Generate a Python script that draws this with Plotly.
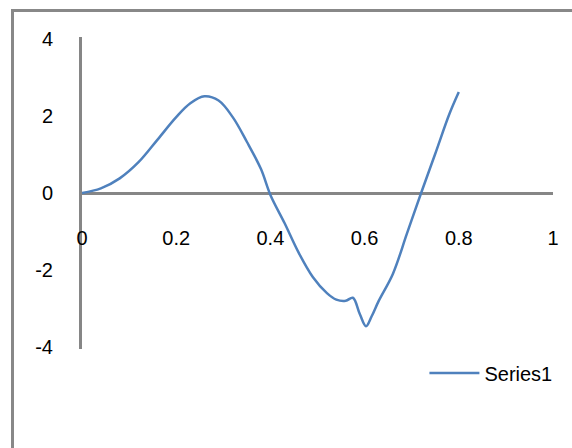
import plotly.graph_objects as go

# Series1 samples (x, y)
x_vals = [0, 0.04, 0.08, 0.12, 0.16, 0.2, 0.23, 0.26, 0.29, 0.32, 0.35, 0.38, 0.40,
          0.43, 0.46, 0.49, 0.52, 0.54, 0.56, 0.575, 0.59, 0.603, 0.615, 0.63, 0.66,
          0.69, 0.72, 0.75, 0.78, 0.80]
y_vals = [0, 0.12, 0.38, 0.8, 1.38, 1.97, 2.33, 2.51, 2.4, 1.97, 1.33, 0.62, -0.05,
          -0.78, -1.55, -2.18, -2.6, -2.77, -2.8, -2.72, -3.15, -3.46, -3.2, -2.8, -2.1,
          -1.05, 0.0, 1.02, 2.05, 2.62]

x_ticks = [0, 0.2, 0.4, 0.6, 0.8, 1]
x_tick_text = ["0", "0.2", "0.4", "0.6", "0.8", "1"]
y_ticks = [-4, -2, 0, 2, 4]
y_tick_text = ["-4", "-2", "0", "2", "4"]

AXIS_GRAY = "#868686"
LINE_BLUE = "#4F81BD"
FONT = dict(family="Liberation Sans, Arial, sans-serif", size=20, color="#000000")

fig = go.Figure()
fig.add_trace(go.Scatter(
    x=x_vals, y=y_vals, mode="lines", name="Series1",
    line=dict(color=LINE_BLUE, width=2.5, shape="spline", smoothing=1.0),
))

fig.update_layout(
    width=572, height=448,
    margin=dict(l=82, r=19, t=37, b=99),
    paper_bgcolor="white", plot_bgcolor="white",
    font=FONT,
    showlegend=True,
    legend=dict(x=0.727, y=-0.077, xanchor="left", yanchor="middle",
                font=FONT, bgcolor="rgba(0,0,0,0)", itemwidth=50),
    xaxis=dict(
        range=[0, 1], tickvals=x_ticks, ticktext=x_tick_text,
        showgrid=False, zeroline=False, showline=False, ticks="",
        anchor="free", position=0.4, tickfont=FONT,
    ),
    yaxis=dict(
        range=[-4.05, 4.05], tickvals=y_ticks, ticktext=y_tick_text,
        showgrid=False, showline=True, linecolor=AXIS_GRAY, linewidth=3,
        zeroline=True, zerolinecolor=AXIS_GRAY, zerolinewidth=3,
        ticks="", ticklabelstandoff=22, tickfont=FONT,
    ),
    shapes=[dict(
        type="rect", xref="paper", yref="paper",
        x0=(12.5 - 82) / 471, x1=1.5, y0=-1.0, y1=(349 - 10.5) / 312,
        line=dict(color="#888888", width=3), fillcolor="rgba(0,0,0,0)", layer="below",
    )],
)

fig.write_html("out.html")
